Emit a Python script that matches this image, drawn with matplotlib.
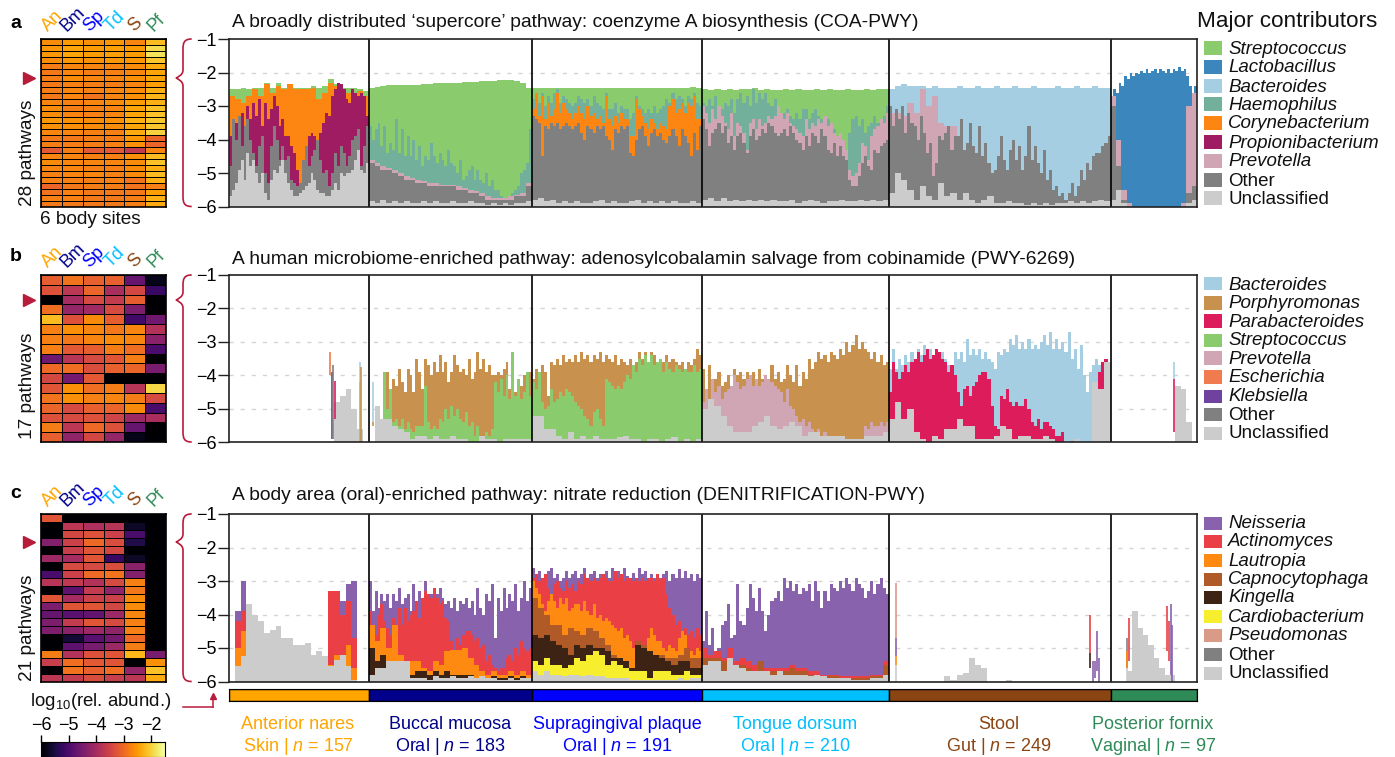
import numpy as np
import matplotlib
matplotlib.use('Agg')
import matplotlib.pyplot as plt
from matplotlib.path import Path
from matplotlib.patches import PathPatch, Rectangle
from matplotlib.lines import Line2D

plt.rcParams['font.family'] = ['Liberation Sans', 'DejaVu Sans']
plt.rcParams['mathtext.fontset'] = 'custom'
plt.rcParams['mathtext.rm'] = 'Liberation Sans'
plt.rcParams['mathtext.it'] = 'Liberation Sans:italic'
plt.rcParams['mathtext.default'] = 'regular'

W, H = 1395, 757

# body sites
site_short = ['An', 'Bm', 'Sp', 'Td', 'S', 'Pf']
site_names = ['Anterior nares', 'Buccal mucosa', 'Supragingival plaque', 'Tongue dorsum', 'Stool', 'Posterior fornix']
site_areas = ['Skin', 'Oral', 'Oral', 'Oral', 'Gut', 'Vaginal']
site_n = [157, 183, 191, 210, 249, 97]
site_colors = ['#ffa500', '#00008b', '#0000ff', '#00bfff', '#8b4513', '#2e8b57']

# taxa colours
colors = {
    'Streptococcus': '#8acb6e', 'Lactobacillus': '#3b87bd', 'Bacteroides': '#a6cee3',
    'Haemophilus': '#72b09b', 'Corynebacterium': '#fd8512', 'Propionibacterium': '#a01c62',
    'Prevotella': '#d0a6b5', 'Other': '#808080', 'Unclassified': '#cccccc',
    'Porphyromonas': '#c8914d', 'Parabacteroides': '#dd1c5b', 'Escherichia': '#ef7b4e',
    'Klebsiella': '#6f42a0', 'Neisseria': '#8962ae', 'Actinomyces': '#ea3f44',
    'Lautropia': '#ff8a12', 'Capnocytophaga': '#b05a28', 'Kingella': '#3d2314',
    'Cardiobacterium': '#f7ef2e', 'Pseudomonas': '#da9a88',
}

legend_a = ['Streptococcus', 'Lactobacillus', 'Bacteroides', 'Haemophilus', 'Corynebacterium',
            'Propionibacterium', 'Prevotella', 'Other', 'Unclassified']
legend_b = ['Bacteroides', 'Porphyromonas', 'Parabacteroides', 'Streptococcus', 'Prevotella',
            'Escherichia', 'Klebsiella', 'Other', 'Unclassified']
legend_c = ['Neisseria', 'Actinomyces', 'Lautropia', 'Capnocytophaga', 'Kingella',
            'Cardiobacterium', 'Pseudomonas', 'Other', 'Unclassified']

# heatmaps, log10 relative abundance, rows top to bottom
heat_a = [
    [-2.65, -2.5, -2.6, -2.55, -2.7, -2.2], [-2.55, -2.4, -2.5, -2.45, -2.5, -1.9],
    [-2.55, -2.4, -2.5, -2.45, -2.5, -1.85], [-2.65, -2.55, -2.6, -2.55, -2.55, -2.1],
    [-2.8, -2.7, -2.7, -2.7, -2.65, -2.35], [-2.85, -2.7, -2.8, -2.75, -2.7, -2.4],
    [-2.8, -2.65, -2.7, -2.7, -2.6, -2.4], [-2.85, -2.75, -2.8, -2.8, -2.7, -2.45],
    [-2.8, -2.7, -2.75, -2.7, -2.65, -2.3], [-2.85, -2.7, -2.9, -2.7, -2.6, -2.25],
    [-2.7, -2.75, -2.7, -2.65, -2.5, -2.3], [-2.65, -2.8, -2.75, -2.7, -2.4, -2.15],
    [-2.65, -2.7, -2.75, -2.7, -2.4, -2.15], [-2.55, -2.6, -2.65, -2.6, -2.3, -2.1],
    [-2.6, -2.6, -2.65, -2.65, -2.4, -2.1], [-2.7, -2.7, -2.75, -2.75, -2.35, -2.0],
    [-2.85, -2.85, -2.8, -2.8, -2.55, -3.05], [-2.8, -2.8, -2.8, -2.75, -2.6, -3.05],
    [-3.2, -2.8, -3.2, -3.2, -3.65, -2.7], [-2.7, -2.7, -2.75, -2.75, -2.6, -2.2],
    [-2.65, -2.7, -2.7, -2.7, -2.65, -2.15], [-2.7, -2.7, -2.75, -2.75, -2.65, -2.3],
    [-2.75, -2.7, -2.7, -2.75, -2.65, -2.2], [-2.75, -2.75, -2.8, -2.75, -2.9, -2.3],
    [-3.05, -2.85, -2.8, -2.8, -2.9, -2.75], [-2.9, -2.75, -2.85, -2.85, -2.85, -2.45],
    [-2.75, -2.75, -2.85, -2.85, -2.8, -2.3], [-2.85, -2.85, -2.85, -2.85, -2.8, -2.35],
]
heat_b = [
    [-3.15, -2.9, -3.1, -3.1, -4.7, -5.8], [-3.3, -3.75, -3.05, -3.95, -3.45, -5.2],
    [-6, -4.0, -3.4, -3.65, -3.15, -6], [-2.95, -4.2, -4.05, -3.4, -4.45, -6],
    [-2.2, -3.3, -2.65, -3.15, -5.1, -4.6], [-2.75, -2.6, -2.7, -2.85, -2.7, -3.85],
    [-2.75, -2.85, -2.7, -2.65, -2.7, -4.3], [-2.75, -3.2, -3.15, -2.8, -2.95, -5],
    [-4.6, -3.8, -3.4, -3.25, -2.8, -6], [-3, -2.95, -3.35, -3.1, -3.05, -4.5],
    [-3.45, -4.55, -3.2, -6, -6, -6], [-3.25, -2.6, -2.95, -2.8, -3.8, -1.95],
    [-2.9, -2.6, -2.75, -2.7, -2.8, -3.4], [-3.05, -3.4, -3.1, -3.05, -2.65, -5],
    [-3.3, -3.4, -3.3, -3.5, -4.1, -3.95], [-2.8, -3.75, -3.0, -3.3, -4.7, -6],
    [-3.1, -4.25, -3.45, -4.2, -5.8, -6],
]
heat_c = [
    [-3.25, -6, -6, -6, -6, -6], [-6, -3.75, -3.9, -3.8, -5.7, -6],
    [-6, -3.45, -3.3, -3.55, -5.0, -6], [-4.4, -3.55, -3.0, -3.35, -5.45, -6],
    [-6, -3.6, -3.25, -3.45, -6, -6], [-4.1, -4.0, -3.25, -5.2, -5.7, -6],
    [-6, -3.4, -3.4, -3.35, -4.3, -6], [-5, -3.55, -3.0, -2.9, -4.4, -6],
    [-3.8, -3.7, -3.85, -3.4, -2.75, -6], [-6, -4.8, -3.65, -4.25, -2.85, -6],
    [-3.25, -4, -3.55, -3.55, -2.65, -6], [-4.45, -3.25, -3.25, -3.45, -2.65, -6],
    [-4.7, -4.85, -4.75, -4.1, -2.7, -6], [-4.45, -3.65, -3.25, -3.4, -2.75, -6],
    [-4.45, -4.3, -4.1, -4.25, -2.75, -6], [-6, -5.6, -4.85, -4.55, -3.0, -6],
    [-6, -4.8, -4.5, -4.1, -2.8, -6], [-2.8, -3.85, -3.3, -3.25, -2.25, -4.5],
    [-3.6, -2.95, -3.2, -3.25, -6, -2.6], [-6, -2.9, -3.1, -2.95, -4.2, -2.15],
    [-3.75, -3.65, -3.35, -3.6, -3.75, -2.35],
]

# panel a: top of each stacked layer per binned sample, log10 scale
a_an_strep = [-2.5, -2.5, -2.45, -2.5, -2.45, -2.45, -2.3, -2.45, -2.3, -2.45, -2.35, -2.45, -2.45, -2.45, -2.4, -2.45, -2.4, -2.2, -2.35, -2.45, -2.45, -2.45, -2.5, -2.55]
a_an_cory = [-2.7, -2.8, -2.9, -2.7, -2.5, -2.7, -2.35, -2.6, -2.4, -2.5, -2.35, -2.5, -2.5, -2.5, -2.45, -2.8, -2.6, -2.3, -2.4, -2.5, -2.6, -2.6, -2.55, -2.7]
a_an_prop = [-3.9, -4.6, -3.5, -3.9, -3.2, -4.1, -3.0, -3.4, -2.9, -3.3, -2.8, -3.6, -2.9, -3.4, -3.1, -2.7, -3.0, -3.6, -3.4, -3.9, -3.9, -4.2, -4.4, -4.9, -5.3, -5.4, -4.5, -3.9, -3.8, -3.9, -4.4, -3.8, -3.5, -3.2, -3.3, -2.7, -2.5, -2.3, -2.35, -2.5, -2.8, -2.9, -2.5, -2.6, -2.7, -2.6, -2.7, -3.3]
a_an_other = [-4.8, -3.4, -4.0, -3.3, -4.2, -3.6, -3.4, -4.0, -4.4, -4.8, -4.2, -3.9, -5.0, -5.3, -4.2, -3.6, -4.0, -4.6, -4.2, -4.6, -4.5, -5.2, -5.3, -5.4, -5.3, -4.6, -4.2, -4.8, -4.5, -4.3, -4.0, -4.6, -5.0, -4.9, -5.4, -5.0, -4.4, -4.8, -4.2, -4.4, -4.8, -4.5, -4.0, -3.9, -3.7, -4.8, -4.2, -3.6]
a_an_uncl = [-5.7, -5.5, -5.3, -4.9, -4.6, -5.2, -4.4, -4.8, -4.6, -5.0, -5.3, -5.0, -5.6, -5.8, -5.2, -4.9, -5.0, -4.8, -4.6, -5.0, -5.3, -5.5, -5.7, -5.7, -5.6, -5.5, -5.4, -5.3, -5.0, -5.2, -5.5, -5.6, -5.6, -5.7, -5.7, -5.5, -5.3, -5.5, -5.0, -5.1, -5.0, -5.0, -4.9, -4.6, -4.3, -4.9, -5.0, -4.7]

a_bm_strep = [-2.45, -2.42, -2.4, -2.38, -2.38, -2.38, -2.36, -2.36, -2.36, -2.34, -2.34, -2.32, -2.32, -2.3, -2.3, -2.3, -2.28, -2.28, -2.28, -2.26, -2.25, -2.24, -2.23, -2.22, -2.23, -2.25, -2.3, -2.45]
a_bm_haem = [-3.6, -4.0, -3.7, -3.5, -4.2, -3.6, -4.4, -4.1, -4.3, -3.4, -4.4, -3.7, -4.5, -3.9, -4.5, -4.0, -4.6, -4.2, -4.8, -4.5, -4.6, -4.1, -4.5, -4.7, -4.4, -4.6, -4.8, -4.3, -4.7, -4.8, -5.0, -4.6, -5.2, -5.1, -4.9, -4.8, -5.2, -4.9, -5.2, -5.3, -5.0, -5.4, -5.2, -5.5, -5.5, -5.7, -5.8, -5.9, -5.9, -5.6, -5.5, -5.4, -5.0, -4.9, -4.7, -3.7]
a_bm_prev = [-4.6, -4.7, -4.8, -4.85, -4.9, -5.0, -5.1, -5.15, -5.2, -5.25, -5.3, -5.3, -5.35, -5.35, -5.35, -5.4, -5.45, -5.5, -5.55, -5.6, -5.7, -5.75, -5.75, -5.75, -5.7, -5.65, -5.6, -5.3]
a_bm_other = [-4.7, -4.8, -4.9, -4.9, -5.0, -5.1, -5.2, -5.2, -5.3, -5.3, -5.4, -5.4, -5.4, -5.4, -5.4, -5.5, -5.5, -5.6, -5.6, -5.7, -5.8, -5.8, -5.8, -5.8, -5.8, -5.7, -5.7, -5.4]
a_bm_uncl = [-5.85, -5.9, -5.8, -5.9, -5.85, -5.9, -5.85, -5.9, -5.9, -5.85, -5.9, -5.85, -5.9, -5.9, -5.85, -5.9, -5.9, -5.85, -5.9, -5.9, -5.95, -5.9, -5.95, -5.9, -5.95, -5.9, -5.9, -5.85]

a_sp_strep = [-2.45, -2.45, -2.47, -2.45, -2.47, -2.46, -2.45, -2.46, -2.45, -2.47, -2.46, -2.45, -2.46, -2.47, -2.45, -2.46, -2.46, -2.45, -2.45, -2.46, -2.47, -2.45, -2.45, -2.46, -2.45, -2.45, -2.44, -2.45]
a_sp_haem = [-2.8, -2.6, -2.9, -2.6, -3.0, -2.7, -2.9, -2.6, -2.5, -2.9, -2.7, -2.8, -2.9, -3.0, -2.9, -2.7, -2.8, -2.9, -2.8, -3.0, -2.7, -2.9, -3.0, -3.1, -2.6, -3.1, -3.1, -2.9, -3.2, -3.0, -3.1, -3.1, -3.4, -3.2, -2.7, -3.0, -3.1, -3.2, -3.1, -3.2, -3.0, -3.2, -3.1, -3.0, -2.8, -2.9, -2.6, -2.8, -2.7, -2.8, -3.0, -2.7, -2.8, -2.6, -2.9, -3.0]
a_sp_cory = [-3.1, -2.6, -3.3, -2.7, -3.4, -2.9, -3.3, -3.1, -2.6, -3.2, -2.9, -3.1, -3.2, -3.4, -3.2, -3.0, -3.2, -3.4, -3.0, -3.3, -3.2, -3.4, -3.3, -3.5, -2.7, -3.4, -3.6, -3.3, -3.5, -3.2, -3.4, -3.4, -3.9, -3.9, -2.8, -3.1, -3.3, -3.5, -3.7, -3.4, -3.5, -3.7, -3.5, -3.6, -3.7, -3.0, -2.8, -3.2, -3.1, -2.9, -3.2, -2.9, -3.0, -2.7, -3.4, -3.4]
a_sp_other = [-3.3, -3.4, -3.5, -4.5, -3.6, -3.7, -3.5, -3.6, -3.5, -3.7, -3.6, -3.5, -3.6, -3.7, -3.6, -3.5, -3.8, -4.0, -3.6, -3.7, -3.8, -3.6, -3.7, -3.6, -3.9, -4.0, -4.3, -3.7, -3.8, -3.6, -3.7, -3.6, -4.4, -4.5, -4.0, -3.7, -3.6, -3.9, -4.2, -3.8, -3.7, -3.9, -3.8, -4.0, -4.1, -3.9, -3.7, -3.9, -4.2, -3.7, -3.9, -4.1, -4.5, -3.8, -4.3, -3.6]
a_sp_uncl = [-5.8, -5.75, -5.85, -5.8, -5.9, -5.85, -5.9, -5.85, -5.9, -5.9, -5.85, -5.8, -5.9, -5.85, -5.9, -5.9, -5.85, -5.8, -5.9, -5.85, -5.9, -5.85, -5.9, -5.85, -5.9, -5.9, -5.85, -5.9]

a_td_strep = [-2.5, -2.52, -2.5, -2.52, -2.5, -2.52, -2.5, -2.5, -2.45, -2.52, -2.5, -2.52, -2.52, -2.5, -2.52, -2.5, -2.52, -2.52, -2.5, -2.52, -2.5, -2.52, -2.52, -2.5, -2.52, -2.52, -2.5, -2.52, -2.5, -2.5]
a_td_haem = [-2.9, -3.0, -2.8, -3.0, -2.7, -3.0, -3.1, -2.9, -3.0, -2.8, -3.2, -2.8, -2.6, -2.9, -2.7, -3.0, -2.5, -2.9, -2.6, -2.8, -2.6, -2.9, -3.0, -2.8, -3.0, -3.2, -3.2, -3.1, -3.3, -3.4, -3.2, -3.4, -3.1, -3.1, -3.4, -3.2, -3.1, -3.3, -3.4, -3.3, -3.4, -3.5, -3.7, -4.2, -4.5, -4.3, -4.4, -3.8, -3.4, -3.3, -3.6, -3.4, -3.8, -3.6, -3.5, -3.3, -3.5, -3.4, -3.3, -3.0]
a_td_prev = [-3.0, -3.2, -3.5, -3.1, -3.4, -3.0, -3.3, -3.5, -3.7, -3.2, -3.9, -3.5, -3.6, -3.8, -4.3, -3.5, -3.4, -3.7, -3.4, -3.6, -3.5, -3.3, -3.4, -3.3, -3.0, -3.2, -3.4, -3.2, -3.5, -3.6, -3.7, -3.8, -3.9, -3.4, -3.7, -3.5, -3.6, -3.4, -3.5, -3.3, -3.6, -3.5, -3.8, -3.9, -3.8, -4.0, -4.3, -4.9, -5.1, -5.0, -4.7, -4.1, -4.2, -4.6, -3.9, -3.7, -3.6, -3.4, -3.5, -3.2]
a_td_other = [-3.4, -3.7, -4.2, -3.8, -3.7, -3.5, -3.8, -3.6, -4.1, -3.9, -4.3, -3.9, -3.8, -4.1, -4.4, -3.9, -3.7, -4.0, -3.9, -3.7, -3.8, -3.5, -3.6, -3.8, -3.9, -3.8, -3.7, -3.9, -3.6, -3.8, -4.0, -4.1, -4.3, -3.9, -4.2, -3.8, -3.9, -4.1, -3.7, -3.9, -4.3, -4.4, -4.1, -4.5, -4.2, -4.5, -4.6, -5.2, -5.4, -5.4, -5.1, -4.7, -4.5, -4.8, -4.9, -4.3, -4.4, -4.2, -4.1, -4.0]
a_td_uncl = [-5.8, -5.75, -5.85, -5.75, -5.85, -5.8, -5.85, -5.8, -5.85, -5.8, -5.85, -5.8, -5.85, -5.85, -5.8, -5.9, -5.85, -5.8, -5.85, -5.9, -5.85, -5.85, -5.8, -5.85, -5.85, -5.8, -5.85, -5.8, -5.85, -5.8]

a_st_bact = [-2.5, -2.4, -2.35, -2.4, -2.4, -2.4, -2.45, -2.4, -2.45, -2.45, -2.45, -2.4, -2.45, -2.45, -2.4, -2.45, -2.45, -2.4, -2.45, -2.45, -2.4, -2.45, -2.45, -2.4, -2.45, -2.45, -2.45, -2.4, -2.45, -2.45, -2.4, -2.45, -2.45, -2.4, -2.45, -2.45]
a_st_prev = [-3.2, -3.2, -3.3, -2.9, -3.2, -2.5, -3.0, -2.7, -3.5, -3.6, -3.6, -4.4, -6, -6, -6, -6, -6, -6, -6, -6, -6, -6, -6, -6, -6, -6, -6, -6, -6, -6, -6, -6, -6, -6, -6, -6]
a_st_other = [-3.0, -3.6, -3.1, -3.4, -3.0, -3.8, -3.2, -3.5, -3.6, -4.0, -3.3, -3.8, -4.4, -4.1, -5.1, -4.7, -3.9, -4.0, -3.8, -3.6, -4.3, -3.9, -3.9, -3.4, -4.3, -4.1, -3.5, -4.2, -4.4, -3.6, -4.5, -4.1, -4.7, -5.0, -4.9, -4.5, -3.9, -4.6, -4.9, -4.3, -4.0, -4.6, -4.2, -4.9, -4.5, -3.6, -4.6, -4.2, -4.7, -5.0, -4.3, -5.2, -4.9, -5.5, -5.4, -5.7, -5.6, -5.8, -5.6, -5.3, -5.7, -5.4, -4.9, -5.2, -4.7, -4.9, -4.5, -4.4, -4.4, -4.2, -4.1, -3.9]
a_st_uncl = [-5.6, -5.0, -5.2, -5.5, -5.8, -5.4, -5.7, -5.8, -5.3, -5.7, -5.6, -5.8, -5.6, -5.8, -5.9, -5.8, -5.7, -5.9, -5.9, -5.85, -5.9, -5.9, -5.95, -5.9, -5.95, -5.9, -5.95, -5.9, -5.9, -5.85, -5.9, -5.85, -5.9, -5.85, -5.8, -5.85]

a_pf_lact = [-2.9, -2.5, -2.6, -2.3, -2.4, -2.1, -2.2, -2.0, -2.1, -2.0, -2.05, -1.95, -2.0, -1.9, -2.0, -1.95, -1.9, -2.0, -1.9, -1.95, -2.0, -1.9, -2.0, -1.9, -1.95, -1.85, -1.95, -1.9, -2.1, -2.4, -2.6, -2.4]
a_pf_prev = [-2.7, -4.0, -5.5, -5.9, -6, -6, -6, -6, -6, -6, -6, -6, -6, -5.9, -3.0, -2.6]
a_pf_other = [-3.0, -4.8, -5.8, -6, -6, -6, -6, -6, -6, -6, -6, -6, -6, -6, -5.6, -5.4]
a_pf_uncl = [-5.8, -5.5, -5.9, -6, -6, -6, -6, -6, -6, -6, -6, -6, -6, -6, -5.9, -5.8]

# panel b
b_an_uncl = [-6, -6, -6, -6, -6, -6, -6, -6, -6, -6, -6, -6, -6, -6, -6, -6, -6, -6, -4.8, -4.6, -4.4, -5.0, -5.6, -6]

b_bm_porph = [-6, -6, -6, -6, -6, -4.6, -3.9, -4.8, -4.1, -4.3, -3.8, -4.2, -4.5, -3.8, -4.0, -4.5, -3.5, -3.9, -4.4, -3.5, -3.7, -4.0, -3.6, -3.9, -3.4, -3.9, -3.6, -4.2, -3.9, -3.4, -3.7, -3.9, -3.8, -4.0, -3.5, -4.1, -3.9, -3.3, -3.8, -3.5, -3.9, -3.7, -4.0, -4.0, -3.9, -4.0, -3.8, -3.6, -4.4, -4.2, -4.5, -4.1, -4.3, -4.0, -4.4, -3.9]
b_bm_strep = [-6, -6, -6, -6, -6, -3.9, -5.0, -4.4, -5.4, -5.3, -5.5, -5.3, -5.6, -5.4, -5.6, -5.7, -5.5, -5.5, -5.5, -4.3, -5.4, -5.6, -5.5, -5.6, -5.3, -5.4, -5.0, -5.3, -4.9, -5.2, -5.0, -5.3, -5.4, -5.1, -5.5, -5.4, -5.8, -5.5, -5.8, -5.9, -5.7, -5.8, -5.6, -4.2, -4.5, -4.1, -4.6, -4.0, -4.7, -3.3, -4.6, -4.1, -4.7, -4.5, -3.9, -4.6]
b_bm_uncl = [-6, -4.9, -5.3, -5.3, -5.5, -5.6, -5.7, -5.9, -5.8, -5.8, -5.9, -5.8, -5.9, -5.9, -5.8, -5.9, -5.9, -6, -6, -5.8, -5.9, -5.9, -6, -5.9, -5.9, -5.9, -5.9, -5.9]

b_sp_porph = [-4.1, -3.8, -4.0, -3.7, -3.9, -4.6, -3.6, -3.7, -3.5, -3.7, -3.4, -3.6, -3.5, -3.6, -3.4, -3.6, -3.3, -3.5, -3.4, -3.6, -3.4, -3.5, -3.3, -3.6, -3.4, -3.5, -3.6, -3.4, -3.7, -3.5, -3.6, -3.7, -3.5, -3.7, -3.6, -3.3, -3.5, -3.3, -3.6, -3.3, -3.4, -3.6, -3.5, -3.6, -3.4, -3.6, -3.5, -3.6, -3.7, -3.6, -3.8, -3.6, -3.7, -3.5, -3.2, -3.4]
b_sp_strep = [-4.2, -4.4, -3.9, -4.8, -5.0, -4.9, -4.4, -4.8, -4.7, -4.5, -4.6, -4.4, -4.5, -4.6, -4.8, -4.9, -5.0, -5.2, -5.3, -5.5, -5.1, -5.0, -5.3, -5.5, -4.1, -4.2, -4.3, -4.4, -4.3, -4.4, -4.2, -4.0, -4.1, -3.7, -3.9, -3.5, -3.7, -3.4, -3.6, -3.4, -3.7, -3.6, -3.5, -3.9, -3.6, -3.8, -3.9, -3.7, -3.8, -3.9, -3.8, -3.9, -3.9, -3.7, -3.9, -3.8]
b_sp_uncl = [-5.2, -5.2, -5.6, -5.6, -5.8, -5.9, -5.7, -5.9, -5.8, -5.9, -5.8, -5.9, -5.9, -5.9, -5.85, -5.8, -5.9, -5.9, -5.95, -5.9, -5.9, -5.95, -5.9, -5.85, -5.95, -5.9, -5.95, -5.9]

b_td_porph = [-3.8, -4.5, -3.7, -4.4, -4.1, -3.9, -4.3, -4.2, -4.0, -4.4, -3.8, -4.0, -3.9, -4.1, -3.9, -4.2, -3.9, -4.2, -3.8, -4.1, -4.0, -4.3, -3.7, -4.1, -3.9, -4.2, -4.1, -3.7, -4.0, -4.2, -3.7, -4.3, -3.9, -4.1, -3.5, -3.8, -3.6, -3.3, -3.5, -3.4, -3.6, -3.3, -3.4, -3.5, -3.2, -3.4, -3.0, -3.3, -3.1, -2.8, -3.2, -3.0, -3.2, -3.3, -3.5, -3.3, -3.6, -3.4, -3.7, -3.6]
b_td_prev = [-4.8, -4.4, -4.7, -4.1, -4.5, -4.3, -4.7, -4.5, -4.4, -4.3, -4.0, -4.2, -4.4, -4.3, -4.1, -4.0, -4.3, -4.1, -4.3, -4.2, -4.0, -4.1, -4.2, -4.3, -4.4, -4.5, -4.8, -4.4, -4.9, -5.0, -5.2, -5.4, -5.3, -5.5, -5.4, -5.6, -5.7, -5.6, -5.8, -5.7, -5.8, -5.8, -5.9, -5.8, -5.9, -5.9, -5.9, -5.9, -5.9, -5.9, -5.9, -5.9, -5.5, -5.6, -5.4, -5.5, -5.5, -5.4, -5.5, -5.4]
b_td_uncl = [-5.0, -4.7, -4.9, -5.2, -5.5, -5.7, -5.7, -5.7, -5.5, -5.4, -5.2, -5.5, -5.6, -5.5, -5.4, -5.5, -5.8, -5.7, -5.7, -5.8, -5.8, -5.8, -5.8, -5.9, -5.9, -5.9, -5.8, -5.8, -5.8, -5.7]

b_st_bact = [-3.8, -3.2, -3.8, -3.5, -3.7, -3.4, -3.6, -3.3, -3.5, -3.2, -3.4, -3.1, -3.3, -3.2, -3.4, -3.5, -3.6, -3.3, -3.5, -3.7, -3.9, -3.3, -3.5, -3.3, -3.6, -2.9, -3.4, -3.2, -3.4, -3.2, -3.5, -3.3, -3.5, -3.6, -3.8, -3.3, -3.4, -3.2, -3.3, -2.9, -3.1, -2.8, -3.2, -3.0, -3.2, -2.9, -3.2, -3.1, -3.2, -3.0, -2.8, -3.1, -2.7, -3.2, -2.9, -3.2, -3.0, -3.3, -2.7, -3.5, -3.2, -3.8, -3.1, -4.0, -4.5, -3.9, -3.7, -3.5, -3.7, -3.6, -3.7, -3.7]
b_st_para = [-4.5, -3.6, -3.9, -4.1, -3.9, -3.7, -3.9, -3.6, -3.5, -3.3, -3.6, -3.4, -3.2, -3.5, -3.4, -3.2, -3.3, -3.5, -3.6, -3.9, -3.7, -4.0, -4.5, -4.9, -4.4, -4.3, -4.6, -4.3, -4.2, -4.0, -3.9, -3.9, -4.1, -4.9, -5.5, -5.6, -4.6, -4.7, -4.4, -4.8, -4.9, -4.8, -4.9, -4.9, -4.7, -5.0, -5.4, -5.5, -5.3, -5.6, -5.4, -5.4, -5.5, -5.6, -5.8, -5.8, -5.7, -6, -6, -5.95, -6, -6, -6, -6, -6, -6, -4.6, -4.4, -3.9, -3.6, -3.5, -3.7]
b_st_uncl = [-5.3, -4.8, -5.3, -5.0, -5.7, -5.9, -6, -5.8, -5.9, -5.6, -5.6, -5.3, -5.5, -5.5, -5.9, -5.9, -5.9, -5.8, -5.5, -5.6, -5.9, -5.8, -5.8, -5.9, -5.9, -5.8, -5.9, -6, -6, -6, -5.9, -6, -6, -4.2, -4.4, -3.6]

b_pf_uncl = [-6, -6, -6, -6, -6, -6, -6, -6, -6, -6, -6, -6, -4.3, -4.4, -5.4, -6]

# panel c
c_an_neis = [-6, -3.9, -3.0, -6, -6, -6, -6, -6, -6, -6, -6, -6, -6, -6, -6, -6, -6, -5.5, -4.4, -3.6, -3.1, -3.0, -6, -6]
c_an_acti = [-6, -4.2, -3.9, -6, -6, -6, -6, -6, -6, -6, -6, -6, -6, -6, -6, -6, -6, -3.3, -3.3, -4.0, -3.6, -4.7, -6, -6]
c_an_laut = [-6, -5.0, -4.5, -6, -6, -6, -6, -6, -6, -6, -6, -6, -6, -6, -6, -6, -6, -5.5, -5.2, -5.3, -4.9, -5.6, -6, -6]
c_an_uncl = [-6, -5.55, -5.25, -3.7, -4.0, -4.2, -4.55, -4.45, -4.35, -4.7, -4.7, -4.9, -4.9, -4.85, -5.2, -5.1, -5.25, -5.55, -5.35, -5.2, -5.55, -5.95, -6, -6]

c_bm_neis = [-3.0, -3.9, -3.3, -3.8, -3.4, -3.6, -3.4, -3.8, -3.4, -3.6, -3.2, -3.7, -3.5, -3.4, -3.9, -3.1, -3.6, -3.3, -3.7, -3.0, -3.6, -3.4, -3.6, -3.4, -3.2, -3.5, -3.7, -3.6, -3.8, -3.5, -3.9, -3.6, -3.7, -3.5, -3.8, -3.6, -4.0, -3.2, -3.8, -4.0, -3.4, -3.6, -3.1, -4.7, -3.5, -3.9, -3.2, -3.8, -3.4, -3.6, -3.1, -3.9, -3.5, -3.0, -3.6, -3.2]
c_bm_acti = [-3.9, -4.3, -4.6, -4.0, -3.7, -4.2, -4.4, -4.6, -4.1, -4.5, -3.8, -4.3, -3.8, -4.2, -4.0, -3.9, -3.6, -4.1, -3.5, -3.3, -3.4, -3.5, -3.2, -3.5, -3.7, -3.6, -4.1, -4.2, -4.8, -5.1, -4.7, -4.9, -4.6, -4.5, -4.5, -4.6, -4.8, -4.7, -5.0, -4.9, -5.4, -5.2, -5.5, -5.6, -5.7, -5.6, -5.6, -5.3, -5.2, -5.4, -5.0, -5.2, -4.8, -5.0, -5.1, -5.0]
c_bm_laut = [-4.3, -4.8, -4.4, -5.0, -4.3, -5.2, -5.4, -5.4, -5.4, -5.6, -5.7, -5.4, -5.5, -5.1, -5.05, -5.05, -5.0, -5.3, -5.5, -5.7, -5.8, -5.7, -5.8, -5.8, -5.7, -5.8, -5.7, -5.8]
c_bm_king = [-5.0, -5.4, -5.2, -5.5, -5.6, -5.7, -5.8, -5.8, -5.7, -5.7, -5.8, -5.7, -5.8, -5.7, -5.8, -5.8, -5.8, -5.8, -5.9, -5.9, -5.9, -5.85, -5.9, -5.9, -5.85, -5.9, -5.85, -5.9]
c_bm_uncl = [-5.8, -5.6, -5.6, -5.4, -5.4, -5.4, -5.4, -5.9, -5.9, -5.9, -5.95, -5.85, -5.9, -5.9, -5.85, -5.9, -5.9, -5.85, -5.9, -5.85, -5.9, -5.9, -5.95, -5.95, -5.9, -5.95, -5.9, -5.9]

c_sp_neis = [-2.6, -2.8, -2.7, -2.9, -2.8, -2.7, -2.6, -2.9, -2.8, -3.0, -2.9, -2.7, -2.9, -2.8, -2.7, -2.9, -2.8, -2.6, -2.9, -2.8, -2.7, -2.9, -2.8, -2.9, -2.7, -2.9, -2.6, -2.8, -2.7, -2.9, -2.6, -2.85, -2.9, -2.75, -2.9, -2.6, -2.8, -2.7, -2.9, -2.8, -2.9, -3.0, -2.9, -2.8, -2.7, -3.0, -2.8, -2.9, -2.65, -2.9, -2.7, -2.9, -2.8, -3.0, -2.8, -2.9]
c_sp_acti = [-2.9, -2.8, -3.0, -2.9, -2.8, -3.2, -3.4, -3.1, -3.0, -3.2, -3.3, -3.0, -3.2, -3.1, -3.3, -3.0, -3.1, -2.8, -2.9, -3.0, -2.9, -3.0, -2.9, -2.8, -2.9, -3.0, -3.0, -2.7, -2.9, -2.8, -3.0, -2.9, -2.9, -3.0, -2.9, -3.0, -2.9, -3.0, -2.9, -2.9, -3.0, -2.8, -2.95, -2.9, -3.4, -3.8, -4.0, -4.3, -4.2, -4.5, -4.4, -4.6, -4.5, -4.7, -4.4, -4.6]
c_sp_laut = [-3.0, -3.2, -3.4, -3.7, -3.9, -3.6, -3.4, -3.6, -3.8, -3.5, -3.7, -3.5, -3.9, -3.8, -3.7, -3.7, -3.9, -3.6, -3.9, -4.0, -3.7, -4.1, -4.0, -4.2, -4.1, -4.2, -4.3, -4.4, -4.5, -4.4, -4.7, -4.6, -4.8, -5.0, -5.1, -5.3, -5.6, -5.7, -4.7, -4.4, -4.6, -4.8, -4.8, -5.0, -5.1, -4.9, -5.0, -5.1, -4.7, -4.5, -4.6, -5.0, -5.1, -5.2, -5.0, -5.1]
c_sp_capn = [-3.5, -3.8, -4.0, -4.3, -4.3, -4.6, -4.4, -4.5, -4.6, -4.4, -4.5, -4.7, -4.9, -5.2, -5.3, -5.5, -5.7, -4.8, -4.9, -5.1, -5.2, -5.2, -5.3, -5.3, -5.2, -5.0, -5.3, -5.3]
c_sp_king = [-4.6, -4.7, -4.6, -4.8, -4.9, -5.0, -5.2, -4.9, -5.0, -4.9, -5.0, -5.0, -5.1, -5.3, -5.3, -5.4, -5.6, -4.9, -5.0, -5.1, -5.2, -5.3, -5.4, -5.5, -5.4, -5.4, -5.6, -5.6]
c_sp_card = [-5.4, -5.5, -5.3, -5.5, -5.5, -5.6, -5.5, -5.3, -5.4, -5.2, -5.1, -5.2, -5.5, -5.4, -5.5, -5.6, -5.7, -5.7, -5.7, -5.9, -5.7, -5.7, -5.7, -5.8, -5.8, -5.7, -5.8, -5.8]
c_sp_uncl = [-5.7, -5.8, -5.7, -5.8, -5.8, -5.85, -5.8, -5.8, -5.85, -5.8, -5.85, -5.85, -5.9, -5.9, -5.9, -5.9, -5.95, -5.95, -5.95, -5.95, -5.95, -5.95, -5.95, -5.95, -5.9, -5.95, -5.9, -5.9]

c_td_neis = [-4.8, -3.9, -4.9, -4.4, -5.1, -5.0, -4.3, -4.2, -3.7, -4.7, -4.6, -3.1, -4.2, -4.3, -3.8, -3.1, -3.5, -3.9, -3.2, -3.9, -4.5, -4.0, -3.6, -3.5, -3.3, -3.6, -2.9, -3.2, -3.0, -3.3, -3.1, -3.4, -3.2, -3.3, -3.1, -3.6, -3.0, -3.3, -3.8, -3.3, -3.6, -3.1, -3.2, -3.3, -3.0, -3.2, -2.9, -3.1, -3.3, -2.9, -3.1, -3.2, -3.5, -3.3, -3.0, -3.4, -3.1, -2.9, -3.2, -3.4]
c_td_acti = [-5.0, -5.2, -5.1, -5.3, -5.0, -5.4, -5.3, -5.4, -5.5, -5.4, -5.6, -5.6, -5.6, -5.6, -5.5, -5.6, -5.6, -5.7, -5.7, -5.8, -5.8, -5.8, -5.85, -5.85, -5.85, -5.85, -5.85, -5.8, -5.8, -5.4]
c_td_capn = [-5.3, -5.3, -5.3, -5.4, -5.6, -5.5, -5.5, -5.6, -5.7, -5.4, -5.7, -5.7, -5.7, -5.7, -5.6, -5.7, -5.7, -5.8, -5.8, -5.85, -5.85, -5.85, -5.9, -5.9, -5.9, -5.9, -5.9, -5.85, -5.85, -5.5]
c_td_uncl = [-5.5, -5.4, -5.4, -5.7, -5.3, -5.5, -5.6, -5.7, -5.7, -5.7, -5.7, -5.8, -5.7, -5.8, -5.8, -5.8, -5.8, -5.85, -5.8, -5.85, -5.9, -5.9, -5.9, -5.9, -5.95, -5.95, -5.95, -5.9, -5.9, -5.8]

c_st_uncl = [-6, -6, -6, -6, -6, -6, -6, -6, -6, -5.85, -5.95, -5.8, -5.75, -5.3, -5.5, -5.6, -6, -6, -6, -5.95, -6, -6, -6, -6, -6, -6, -6, -6, -6, -6, -6, -6, -6, -6, -6, -6]
c_pf_uncl = [-6, -6, -6, -5.7, -3.9, -4.4, -4.6, -4.9, -5.3, -5.6, -5.8, -5.8, -6, -6, -6, -6]

# thin single-sample spikes: taxon, sample rank across the whole axis, low, high
b_spike_taxa = ['Escherichia', 'Klebsiella', 'Other', 'Parabacteroides', 'Bacteroides', 'Streptococcus', 'Porphyromonas', 'Bacteroides', 'Porphyromonas', 'Parabacteroides', 'Bacteroides']
b_spike_rank = [113.8, 115.3, 117.1, 119.4, 146.8, 146.8, 148.2, 162.0, 162.0, 1060.9, 1060.9]
b_spike_low = [-4.0, -5.9, -5.9, -5.3, -4.2, -6, -6, -5.4, -5.5, -5.7, -4.1]
b_spike_high = [-3.3, -3.9, -3.7, -4.15, -3.6, -4.2, -3.75, -4.2, -5.4, -4.1, -3.6]

c_spike_taxa = ['Pseudomonas', 'Neisseria', 'Lautropia', 'Unclassified', 'Actinomyces', 'Kingella', 'Neisseria', 'Neisseria', 'Neisseria', 'Neisseria',
                'Other', 'Lautropia', 'Unclassified', 'Actinomyces', 'Actinomyces', 'Actinomyces', 'Neisseria', 'Neisseria']
c_spike_rank = [749.0, 749.0, 749.0, 749.0, 967.2, 967.2, 970.6, 972.5, 975.0, 976.6,
                1008.8, 1008.8, 1008.8, 1011.0, 1052.9, 1055.1, 1057.4, 1059.3]
c_spike_low = [-4.7, -5.25, -5.5, -6, -5.15, -5.6, -6, -5.9, -5.7, -6, -5.6, -5.6, -6, -5.4, -5.1, -5.4, -5.8, -6]
c_spike_high = [-3.05, -4.7, -5.25, -5.5, -4.0, -5.15, -5.4, -5.4, -4.5, -5.3, -4.7, -5.1, -5.6, -4.1, -3.75, -4.2, -3.7, -4.3]

# stacks, painted from the top layer downwards
panel_a = [
    [('Streptococcus', a_an_strep), ('Corynebacterium', a_an_cory), ('Propionibacterium', a_an_prop), ('Other', a_an_other), ('Unclassified', a_an_uncl)],
    [('Streptococcus', a_bm_strep), ('Haemophilus', a_bm_haem), ('Prevotella', a_bm_prev), ('Other', a_bm_other), ('Unclassified', a_bm_uncl)],
    [('Streptococcus', a_sp_strep), ('Haemophilus', a_sp_haem), ('Corynebacterium', a_sp_cory), ('Other', a_sp_other), ('Unclassified', a_sp_uncl)],
    [('Streptococcus', a_td_strep), ('Haemophilus', a_td_haem), ('Prevotella', a_td_prev), ('Other', a_td_other), ('Unclassified', a_td_uncl)],
    [('Bacteroides', a_st_bact), ('Prevotella', a_st_prev), ('Other', a_st_other), ('Unclassified', a_st_uncl)],
    [('Lactobacillus', a_pf_lact), ('Prevotella', a_pf_prev), ('Other', a_pf_other), ('Unclassified', a_pf_uncl)],
]
panel_b = [
    [('Unclassified', b_an_uncl)],
    [('Porphyromonas', b_bm_porph), ('Streptococcus', b_bm_strep), ('Unclassified', b_bm_uncl)],
    [('Porphyromonas', b_sp_porph), ('Streptococcus', b_sp_strep), ('Unclassified', b_sp_uncl)],
    [('Porphyromonas', b_td_porph), ('Prevotella', b_td_prev), ('Unclassified', b_td_uncl)],
    [('Bacteroides', b_st_bact), ('Parabacteroides', b_st_para), ('Unclassified', b_st_uncl)],
    [('Unclassified', b_pf_uncl)],
]
panel_c = [
    [('Neisseria', c_an_neis), ('Actinomyces', c_an_acti), ('Lautropia', c_an_laut), ('Unclassified', c_an_uncl)],
    [('Neisseria', c_bm_neis), ('Actinomyces', c_bm_acti), ('Lautropia', c_bm_laut), ('Kingella', c_bm_king), ('Unclassified', c_bm_uncl)],
    [('Neisseria', c_sp_neis), ('Actinomyces', c_sp_acti), ('Lautropia', c_sp_laut), ('Capnocytophaga', c_sp_capn), ('Kingella', c_sp_king), ('Cardiobacterium', c_sp_card), ('Unclassified', c_sp_uncl)],
    [('Neisseria', c_td_neis), ('Actinomyces', c_td_acti), ('Capnocytophaga', c_td_capn), ('Unclassified', c_td_uncl)],
    [('Unclassified', c_st_uncl)],
    [('Unclassified', c_pf_uncl)],
]

RED = '#b71c3a'
INK = '#111111'


def px_axes(fig, x0, y0, x1, y1):
    # axes from pixel box, y measured from the top
    return fig.add_axes([x0 / W, 1 - y1 / H, (x1 - x0) / W, (y1 - y0) / H])


def fx(x):
    return x / W


def fy(y):
    return 1 - y / H


def draw_stacks(ax, panel):
    edges = np.concatenate([[0], np.cumsum(site_n)])
    for i, layers in enumerate(panel):
        for name, tops in layers:
            tops = np.array(tops)
            w = site_n[i] / len(tops)
            x = edges[i] + w * np.arange(len(tops))
            ax.bar(x, tops + 6, width=w, bottom=-6, align='edge', color=colors[name],
                   linewidth=0, antialiased=False, zorder=2)


def draw_spikes(ax, taxa, rank, low, high):
    for t, r, lo, hi in zip(taxa, rank, low, high):
        ax.vlines(r, lo, hi, color=colors[t], lw=1.2, zorder=3)


def stack_panel(fig, y0, y1, title, title_y, panel, spikes=None):
    ax = px_axes(fig, 229, y0, 1197, y1)
    ax.set_xlim(0, sum(site_n))
    ax.set_ylim(-6, -1)
    ax.set_yticks([-1, -2, -3, -4, -5, -6])
    ax.set_yticklabels(['\u22121', '\u22122', '\u22123', '\u22124', '\u22125', '\u22126'], fontsize=13)
    ax.tick_params(axis='y', length=8, width=1, pad=1, color='#222222')
    ax.set_xticks([])
    for yv in [-2, -3, -4, -5]:
        ax.axhline(yv, color='#d4d4d4', lw=1, dashes=(3, 5), zorder=1)
    draw_stacks(ax, panel)
    if spikes is not None:
        draw_spikes(ax, *spikes)
    for b in np.cumsum(site_n)[:-1]:
        ax.axvline(b, color='black', lw=1.2, zorder=4)
    for s in ax.spines.values():
        s.set_linewidth(1.2)
        s.set_color('#222222')
        s.set_zorder(5)
    fig.text(fx(232), fy(title_y), title, fontsize=13.85, va='baseline', ha='left', color=INK)
    return ax


def heat_panel(fig, y0, y1, data):
    ax = px_axes(fig, 41, y0, 166, y1)
    ax.pcolormesh(np.array(data), cmap='inferno', vmin=-6, vmax=-1.5, edgecolors='black', linewidth=0.7)
    ax.set_ylim(len(data), 0)
    ax.set_xticks([])
    ax.set_yticks([])
    for s in ax.spines.values():
        s.set_linewidth(1.2)
    for i, lab in enumerate(site_short):
        fig.text(fx(41 + 125 * (i + 0.5) / 6 + 1), fy(y0 - 4), lab, color=site_colors[i], fontsize=13,
                 rotation=45, ha='center', va='bottom')
    return ax


def brace(fig, y0, tip, y1):
    x_end, x_mid, x_tip = 191.7, 183, 176
    verts = [(x_end, y0), (x_mid + 1, y0), (x_mid, y0 + 4), (x_mid, y0 + 10),
             (x_mid, tip - 8), (x_mid, tip - 3), (x_tip + 2, tip - 1), (x_tip, tip),
             (x_tip + 2, tip + 1), (x_mid, tip + 3), (x_mid, tip + 8),
             (x_mid, y1 - 10), (x_mid, y1 - 4), (x_mid + 1, y1), (x_end, y1)]
    codes = [Path.MOVETO, Path.CURVE4, Path.CURVE4, Path.CURVE4,
             Path.LINETO, Path.CURVE4, Path.CURVE4, Path.CURVE4,
             Path.CURVE4, Path.CURVE4, Path.CURVE4,
             Path.LINETO, Path.CURVE4, Path.CURVE4, Path.CURVE4]
    pts = [(fx(a), fy(b)) for a, b in verts]
    fig.add_artist(PathPatch(Path(pts, codes), transform=fig.transFigure, fill=False, edgecolor=RED, lw=1.2))


def legend_col(fig, names, ys):
    for name, y in zip(names, ys):
        fig.add_artist(Rectangle((fx(1204), fy(y + 6.5)), 18 / W, 13 / H, transform=fig.transFigure,
                                 facecolor=colors[name], edgecolor='none'))
        style = 'normal' if name in ('Other', 'Unclassified') else 'italic'
        fig.text(fx(1228), fy(y + 5.5), name, fontsize=13.5, style=style, va='baseline', ha='left', color=INK)


fig = plt.figure(figsize=(W / 100, H / 100), dpi=100)

stack_panel(fig, 39, 206.5, 'A broadly distributed \u2018supercore\u2019 pathway: coenzyme A biosynthesis (COA-PWY)', 27, panel_a)
stack_panel(fig, 275, 442.5, 'A human microbiome-enriched pathway: adenosylcobalamin salvage from cobinamide (PWY-6269)', 263.5, panel_b,
            (b_spike_taxa, b_spike_rank, b_spike_low, b_spike_high))
stack_panel(fig, 514, 681.5, 'A body area (oral)-enriched pathway: nitrate reduction (DENITRIFICATION-PWY)', 499.5, panel_c,
            (c_spike_taxa, c_spike_rank, c_spike_low, c_spike_high))

heat_panel(fig, 39, 206.5, heat_a)
heat_panel(fig, 275, 442, heat_b)
heat_panel(fig, 514, 681.5, heat_c)

# body site strip under the last panel
strip = px_axes(fig, 229, 689, 1197, 701)
strip.set_xlim(0, sum(site_n))
strip.set_ylim(0, 1)
strip.barh(0.5, site_n, left=np.concatenate([[0], np.cumsum(site_n)[:-1]]), height=1, color=site_colors,
           edgecolor='black', linewidth=1.0)
strip.set_xticks([])
strip.set_yticks([])
label_x = [298, 450, 617, 795, 999, 1153]
for i in range(6):
    fig.text(fx(label_x[i]), fy(729), site_names[i], color=site_colors[i], fontsize=13, ha='center', va='baseline')
    fig.text(fx(label_x[i]), fy(751), site_areas[i] + ' | $\\mathit{n}$ = ' + str(site_n[i]), color=site_colors[i],
             fontsize=13, ha='center', va='baseline')

# panel letters and side labels
for lab, y in zip(['a', 'b', 'c'], [24, 256, 494]):
    fig.text(fx(10), fy(y), lab, fontsize=14, fontweight='bold', va='center', ha='left')
for lab, y in zip(['28 pathways', '17 pathways', '21 pathways'], [153, 386, 628]):
    fig.text(fx(27), fy(y), lab, fontsize=13.7, rotation=90, va='center', ha='center', color=INK)
fig.text(fx(40), fy(224), '6 body sites', fontsize=13.7, va='baseline', ha='left', color=INK)
for y in [78, 300, 542]:
    fig.add_artist(Line2D([fx(29)], [fy(y)], marker='>', markersize=9, color=RED, linestyle='none',
                          transform=fig.transFigure))

brace(fig, 39, 78, 206.5)
brace(fig, 275, 300, 442)
brace(fig, 514, 542, 681.5)

# legends
fig.text(fx(1197), fy(27.5), 'Major contributors', fontsize=16.2, va='baseline', ha='left', color=INK)
legend_col(fig, legend_a, [48, 67, 86, 104, 123, 142, 161, 180, 198])
legend_col(fig, legend_b, [284, 303, 321, 340, 358, 377, 396, 414, 433])
legend_col(fig, legend_c, [523, 541, 560, 579, 597, 616, 635, 654, 673])

# colour scale
fig.text(fx(101), fy(701), 'log$_{10}$(rel. abund.)', fontsize=13.4, ha='center', va='center', color=INK)
cbar = px_axes(fig, 41, 742, 165, 757)
cbar.imshow(np.linspace(-6, -1.5, 256)[None, :], cmap='inferno', vmin=-6, vmax=-1.5, aspect='auto',
            extent=[-6, -1.5, 0, 1])
cbar.xaxis.tick_top()
cbar.set_xticks([-6, -5, -4, -3, -2])
cbar.set_xticklabels(['\u22126', '\u22125', '\u22124', '\u22123', '\u22122'], fontsize=13)
cbar.tick_params(axis='x', length=5, width=1, pad=1)
cbar.set_yticks([])

# arrow from colour scale title up to the strip
fig.add_artist(Line2D([fx(183), fx(213)], [fy(707), fy(707)], color=RED, lw=1.1, transform=fig.transFigure))
fig.add_artist(Line2D([fx(213), fx(213)], [fy(707), fy(698)], color=RED, lw=1.1, transform=fig.transFigure))
fig.add_artist(Line2D([fx(213)], [fy(696)], marker='^', markersize=4.5, color=RED, linestyle='none',
                      transform=fig.transFigure))

fig.savefig('out.png', dpi=100)
